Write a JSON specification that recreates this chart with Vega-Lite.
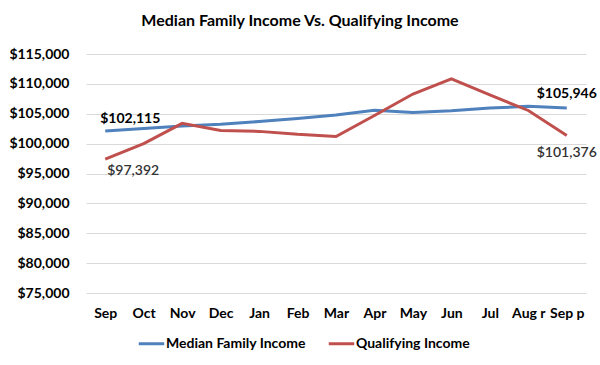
{
  "$schema": "https://vega.github.io/schema/vega-lite/v6.json",
  "width": 500,
  "height": 239,
  "autosize": {"type": "none"},
  "padding": {"left": 86, "top": 54, "right": 14, "bottom": 72},
  "background": "white",
  "title": {
    "text": "Median Family Income Vs. Qualifying Income",
    "font": "Lato",
    "fontSize": 16,
    "fontWeight": "bold",
    "color": "#000000",
    "anchor": "middle",
    "frame": "group",
    "dx": -36,
    "offset": 18
  },
  "data": {
    "values": [
      {"month": "Sep", "series": "Median Family Income", "value": 102115},
      {"month": "Oct", "series": "Median Family Income", "value": 102550},
      {"month": "Nov", "series": "Median Family Income", "value": 102950},
      {"month": "Dec", "series": "Median Family Income", "value": 103250},
      {"month": "Jan", "series": "Median Family Income", "value": 103700},
      {"month": "Feb", "series": "Median Family Income", "value": 104200},
      {"month": "Mar", "series": "Median Family Income", "value": 104800},
      {"month": "Apr", "series": "Median Family Income", "value": 105600},
      {"month": "May", "series": "Median Family Income", "value": 105200},
      {"month": "Jun", "series": "Median Family Income", "value": 105500},
      {"month": "Jul", "series": "Median Family Income", "value": 105950},
      {"month": "Aug r", "series": "Median Family Income", "value": 106250},
      {"month": "Sep p", "series": "Median Family Income", "value": 105946},
      {"month": "Sep", "series": "Qualifying Income", "value": 97392},
      {"month": "Oct", "series": "Qualifying Income", "value": 100000},
      {"month": "Nov", "series": "Qualifying Income", "value": 103400},
      {"month": "Dec", "series": "Qualifying Income", "value": 102200},
      {"month": "Jan", "series": "Qualifying Income", "value": 102050},
      {"month": "Feb", "series": "Qualifying Income", "value": 101550},
      {"month": "Mar", "series": "Qualifying Income", "value": 101200},
      {"month": "Apr", "series": "Qualifying Income", "value": 104700},
      {"month": "May", "series": "Qualifying Income", "value": 108300},
      {"month": "Jun", "series": "Qualifying Income", "value": 110850},
      {"month": "Jul", "series": "Qualifying Income", "value": 108150},
      {"month": "Aug r", "series": "Qualifying Income", "value": 105550},
      {"month": "Sep p", "series": "Qualifying Income", "value": 101376}
    ]
  },
  "encoding": {
    "x": {
      "field": "month",
      "type": "ordinal",
      "sort": ["Sep", "Oct", "Nov", "Dec", "Jan", "Feb", "Mar", "Apr", "May", "Jun", "Jul", "Aug r", "Sep p"],
      "scale": {"type": "point", "padding": 0.5},
      "axis": {
        "title": null,
        "labelAngle": 0,
        "labelFont": "Lato",
        "labelFontSize": 14,
        "labelFontWeight": "bold",
        "labelColor": "#000000",
        "labelPadding": 13,
        "ticks": false,
        "domain": false,
        "grid": false
      }
    },
    "y": {
      "field": "value",
      "type": "quantitative",
      "scale": {"domain": [75000, 115000], "nice": false, "zero": false},
      "axis": {
        "title": null,
        "values": [75000, 80000, 85000, 90000, 95000, 100000, 105000, 110000, 115000],
        "format": "$,.0f",
        "labelFont": "Lato",
        "labelFontSize": 14,
        "labelFontWeight": "bold",
        "labelColor": "#000000",
        "labelPadding": 17,
        "ticks": false,
        "domain": false,
        "grid": true,
        "gridColor": "#d9d9d9",
        "gridWidth": 1
      }
    }
  },
  "layer": [
    {
      "mark": {"type": "line", "strokeWidth": 3},
      "encoding": {
        "color": {
          "field": "series",
          "type": "nominal",
          "scale": {"domain": ["Median Family Income", "Qualifying Income"], "range": ["#4F81BD", "#C0504D"]},
          "legend": {
            "title": null,
            "orient": "none",
            "direction": "horizontal",
            "legendX": 51,
            "legendY": 275,
            "symbolType": "stroke",
            "symbolStrokeWidth": 3,
            "symbolSize": 650,
            "labelFont": "Lato",
            "labelFontSize": 14,
            "labelFontWeight": "bold",
            "labelColor": "#000000",
            "labelOffset": 0,
            "columnPadding": 16
          }
        }
      }
    },
    {
      "transform": [{"filter": "datum.month === 'Sep' && datum.series === 'Median Family Income'"}],
      "mark": {"type": "text", "align": "left", "dx": -5, "dy": -12, "font": "Lato", "fontSize": 14, "fontWeight": "bold", "color": "#000000"},
      "encoding": {"text": {"field": "value", "type": "quantitative", "format": "$,.0f"}}
    },
    {
      "transform": [{"filter": "datum.month === 'Sep' && datum.series === 'Qualifying Income'"}],
      "mark": {"type": "text", "align": "left", "dx": 2, "dy": 12, "font": "Lato", "fontSize": 14, "fontWeight": 600, "color": "#333333"},
      "encoding": {"text": {"field": "value", "type": "quantitative", "format": "$,.0f"}}
    },
    {
      "transform": [{"filter": "datum.month === 'Sep p' && datum.series === 'Median Family Income'"}],
      "mark": {"type": "text", "align": "center", "dx": 0, "dy": -14, "font": "Lato", "fontSize": 14, "fontWeight": "bold", "color": "#000000"},
      "encoding": {"text": {"field": "value", "type": "quantitative", "format": "$,.0f"}}
    },
    {
      "transform": [{"filter": "datum.month === 'Sep p' && datum.series === 'Qualifying Income'"}],
      "mark": {"type": "text", "align": "center", "dx": 0, "dy": 18, "font": "Lato", "fontSize": 14, "fontWeight": 600, "color": "#333333"},
      "encoding": {"text": {"field": "value", "type": "quantitative", "format": "$,.0f"}}
    }
  ],
  "config": {"view": {"stroke": null}}
}
